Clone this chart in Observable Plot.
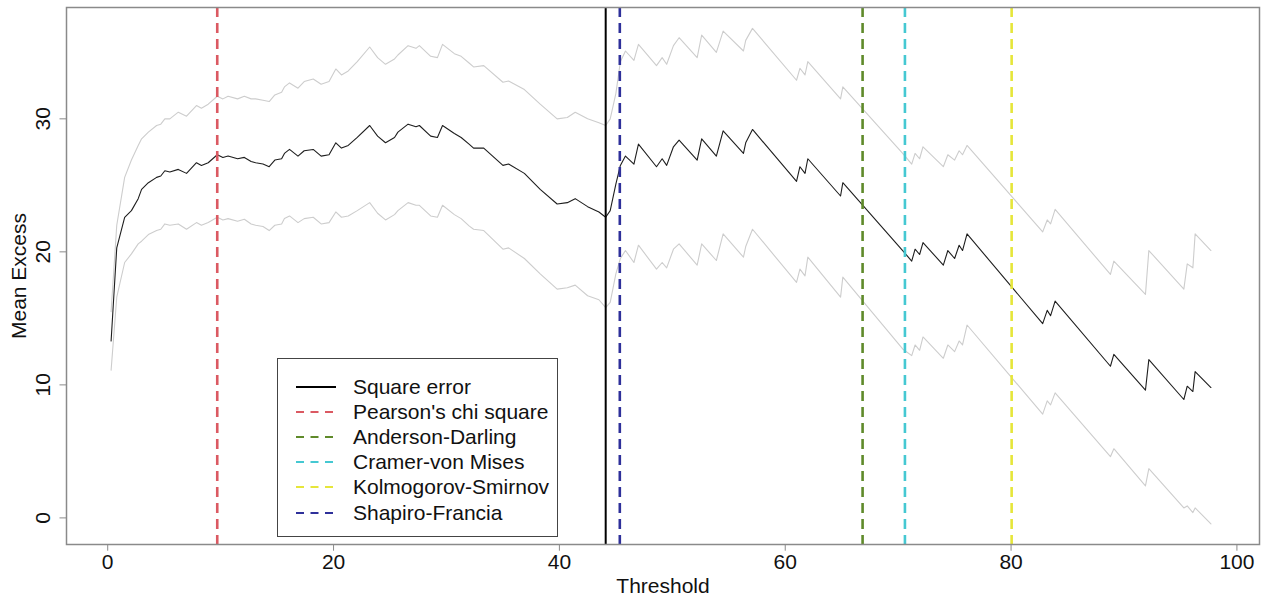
<!DOCTYPE html>
<html>
<head>
<meta charset="utf-8">
<script src="https://cdn.jsdelivr.net/npm/d3@7"></script>
<script src="https://cdn.jsdelivr.net/npm/@observablehq/plot@0.6"></script>
<style>
  html, body { margin: 0; padding: 0; background: #fff; }
  #wrap { position: relative; width: 1268px; height: 603px; font-family: "Liberation Sans", Arial, sans-serif; }
  #legend { position: absolute; left: 277px; top: 358px; width: 281px; height: 179px; border: 1.3px solid #444; background: #fff; box-sizing: border-box; }
  .row { position: absolute; left: 0; height: 24px; width: 100%; }
  .row svg { position: absolute; left: 17px; top: 0; }
  .row span { position: absolute; left: 75px; top: 0; line-height: 24px; font-size: 21px; color: #111; white-space: nowrap; }
</style>
</head>
<body>
<div id="wrap"></div>
<script>
// ---- data ----
const thresholds = [0.3,0.8,1.5,2.1,2.7,3.0,3.6,4.33,4.7,5.06,5.5,6.25,6.98,7.86,8.3,8.9,9.7,10.2,10.66,11.5,12.1,12.7,13.1,13.75,14.3,14.8,15.4,15.65,16.1,16.85,17.4,18.2,18.9,19.6,20.2,20.7,21.3,22.1,23.2,23.9,24.6,25.4,25.7,26.6,27.3,27.6,28.6,29.2,29.65,30.7,31.3,32.0,32.4,33.3,35.0,35.5,36.9,38.3,39.8,40.7,41.4,42.5,43.5,44.1,44.5,45.0,45.4,45.85,46.6,47.0,48.6,49.1,49.5,50.1,50.6,52.2,52.6,53.9,54.5,56.3,56.5,57.1,61.0,61.3,61.75,62.0,64.9,65.1,70.4,71.2,71.5,71.9,72.2,74.0,74.4,75.0,75.4,75.7,76.1,82.8,83.2,83.5,83.9,88.8,89.1,91.9,92.2,95.3,95.6,96.1,96.3,97.7];
const meanExcess = [13.3,20.3,22.6,23.1,24.0,24.7,25.2,25.6,25.7,26.1,26.0,26.2,25.9,26.7,26.5,26.7,27.3,27.1,27.2,27.0,27.1,26.8,26.7,26.6,26.4,26.9,27.0,27.4,27.7,27.2,27.6,27.7,27.2,27.3,28.2,27.8,28.0,28.6,29.5,28.7,28.2,28.6,29.0,29.6,29.4,29.5,28.7,28.6,29.5,28.9,28.6,28.1,27.8,27.8,26.5,26.6,25.9,24.7,23.6,23.7,24.0,23.4,23.0,22.6,23.1,25.1,26.5,27.2,26.6,28.1,26.4,27.0,26.5,27.9,28.4,26.9,28.5,27.2,29.1,27.4,28.2,29.2,25.3,26.4,25.9,27.0,24.2,25.2,20.1,19.3,20.2,19.8,20.7,19.0,20.1,19.5,20.5,20.1,21.35,14.6,15.6,15.2,16.3,11.4,12.3,9.6,11.9,8.9,9.9,9.5,11.0,9.8];
const upperBand = [15.5,22.0,25.6,26.9,28.0,28.5,29.0,29.5,29.6,30.0,30.0,30.5,30.2,31.0,30.8,31.1,31.7,31.5,31.7,31.5,31.7,31.5,31.5,31.4,31.3,31.8,32.0,32.4,32.7,32.3,32.8,33.0,32.6,32.8,33.75,33.3,33.6,34.3,35.4,34.6,34.1,34.5,34.8,35.5,35.3,35.5,34.7,34.6,35.6,34.9,34.7,34.2,33.9,34.0,32.75,32.85,32.2,31.1,30.0,30.1,30.5,30.0,29.7,29.5,30.0,31.9,34.3,35.1,34.4,35.6,34.0,34.6,34.1,35.5,36.1,34.6,36.3,35.0,36.6,35.1,35.9,36.8,32.9,33.8,33.3,34.3,31.5,32.4,27.4,26.6,27.4,27.0,27.9,26.4,27.3,26.9,27.6,27.3,28.0,21.5,22.4,22.1,23.2,18.3,19.3,16.8,20.1,17.2,19.1,18.8,21.35,20.1];
const lowerBand = [11.1,16.6,19.2,19.85,20.6,20.8,21.3,21.6,21.7,22.1,22.0,22.1,21.7,22.2,22.0,22.2,22.6,22.4,22.5,22.3,22.45,22.1,22.0,21.9,21.6,22.0,22.1,22.5,22.7,22.2,22.5,22.6,22.1,22.2,23.0,22.6,22.7,23.1,23.7,22.9,22.4,22.8,23.1,23.7,23.5,23.5,22.7,22.6,23.5,22.8,22.5,21.95,21.7,21.6,20.2,20.3,19.5,18.35,17.2,17.3,17.5,16.7,16.4,15.8,16.2,18.35,19.5,20.1,19.2,20.5,18.7,19.2,18.8,20.2,20.6,19.0,20.6,19.35,21.35,19.6,20.4,21.7,17.7,18.7,18.2,19.6,16.6,18.1,12.7,12.2,13.0,12.6,13.6,12.0,13.0,12.5,13.3,13.0,14.5,7.8,8.8,8.5,9.4,4.6,5.2,2.4,3.7,0.75,0.9,0.4,0.75,-0.45];

const methodNames = ["Square error","Pearson's chi square","Anderson-Darling","Cramer-von Mises","Kolmogorov-Smirnov","Shapiro-Francia"];
const methodThresholds = [44.1, 9.7, 66.85, 70.6, 80.05, 45.35];
const methodColors = ["#000000","#DB5962","#5F8A2A","#45C8D2","#E6E63A","#2E309A"];
const methodDashed = [false, true, true, true, true, true];

const xTicks = [0, 20, 40, 60, 80, 100];
const yTicks = [0, 10, 20, 30];

// ---- tables ----
const curve = thresholds.map((t, i) => ({t, mean: meanExcess[i], up: upperBand[i], lo: lowerBand[i]}));
const methods = methodNames.map((name, i) => ({name, t: methodThresholds[i], color: methodColors[i], dashed: methodDashed[i]}));

const chart = Plot.plot({
  width: 1268,
  height: 603,
  marginLeft: 66,
  marginRight: 9,
  marginTop: 7,
  marginBottom: 59,
  style: {fontFamily: "'Liberation Sans', Arial, sans-serif", fontSize: "21px", color: "#111", background: "#fff"},
  x: {domain: [-3.65, 102.0]},
  y: {domain: [-2.0, 38.37]},
  marks: [
    Plot.line(curve, {x: "t", y: "up", stroke: "#cdcdcd", strokeWidth: 1.1}),
    Plot.line(curve, {x: "t", y: "lo", stroke: "#cdcdcd", strokeWidth: 1.1}),
    Plot.line(curve, {x: "t", y: "mean", stroke: "#1e1e1e", strokeWidth: 1.1}),
    Plot.ruleX(methods.filter(d => !d.dashed), {x: "t", stroke: "color", strokeWidth: 2}),
    Plot.ruleX(methods.filter(d => d.dashed), {x: "t", stroke: "color", strokeWidth: 2.6, strokeDasharray: "10,6"}),
    Plot.frame({stroke: "#8a8a8a", strokeWidth: 1.5}),
    Plot.axisX(xTicks, {tickSize: 6.7, tickPadding: 3, stroke: "#8a8a8a", label: null, fontSize: 21}),
    Plot.axisY(yTicks, {tickSize: 6.5, stroke: "#8a8a8a", label: null, tickFormat: () => ""}),
    Plot.text(yTicks, {y: d => d, text: d => String(d), frameAnchor: "left", textAnchor: "middle", dx: -23, rotate: -90, fontSize: 21, fill: "#111"}),
    Plot.text(["Threshold"], {frameAnchor: "bottom", textAnchor: "middle", dy: 48, fontSize: 21, fill: "#111"}),
    Plot.text(["Mean Excess"], {frameAnchor: "left", textAnchor: "middle", rotate: -90, dx: -47, fontSize: 21, fill: "#111"})
  ]
});

const wrap = document.getElementById("wrap");
wrap.appendChild(chart);

// legend (inside plot area, like R's legend box)
const legend = document.createElement("div");
legend.id = "legend";
methods.forEach((m, i) => {
  const row = document.createElement("div");
  row.className = "row";
  row.style.top = (15.5 + i * 25.2) + "px";
  const dash = m.dashed ? ' stroke-dasharray="8,6.5"' : "";
  row.innerHTML = `<svg width="42" height="24"><line x1="1" x2="41" y1="12" y2="12" stroke="${m.color}" stroke-width="${m.dashed ? 1.8 : 2.2}"${dash}/></svg><span>${m.name}</span>`;
  legend.appendChild(row);
});
wrap.appendChild(legend);
</script>
</body>
</html>
